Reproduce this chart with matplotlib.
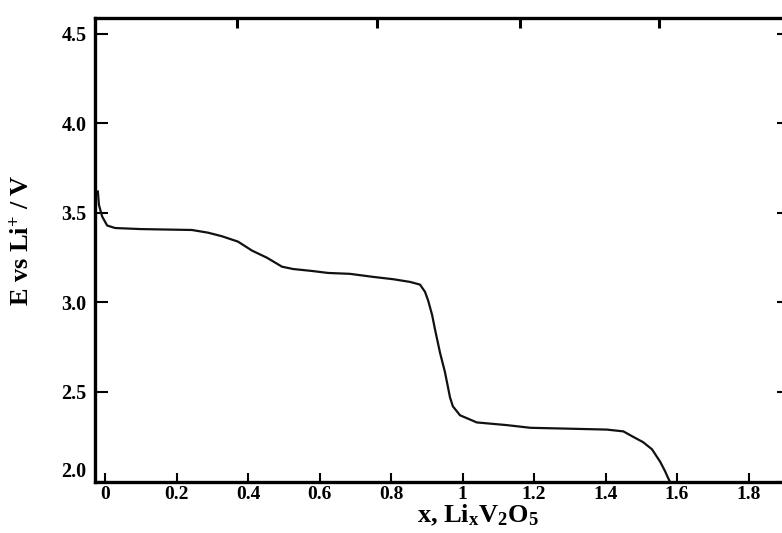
import matplotlib
matplotlib.use("Agg")
import matplotlib.pyplot as plt
import numpy as np

# discharge curve: x in LixV2O5, E vs Li+ in V
x_li = [-0.02, -0.017, -0.008, 0.006, 0.028, 0.10, 0.243, 0.288, 0.327, 0.372,
        0.411, 0.453, 0.495, 0.526, 0.579, 0.624, 0.685, 0.75, 0.806, 0.853,
        0.881, 0.895, 0.904, 0.915, 0.923, 0.937, 0.951, 0.965, 0.973, 0.993,
        1.04, 1.124, 1.19, 1.30, 1.404, 1.45, 1.477, 1.505, 1.53, 1.553,
        1.566, 1.575, 1.58]
e_volt = [3.62, 3.545, 3.48, 3.43, 3.416, 3.41, 3.405, 3.39, 3.37, 3.34,
          3.29, 3.25, 3.20, 3.187, 3.176, 3.165, 3.16, 3.143, 3.13, 3.115,
          3.10, 3.06, 3.01, 2.93, 2.85, 2.72, 2.61, 2.47, 2.42, 2.37,
          2.33, 2.315, 2.30, 2.295, 2.29, 2.28, 2.25, 2.22, 2.18, 2.11,
          2.06, 2.02, 2.0]

x_ticks = [0, 0.2, 0.4, 0.6, 0.8, 1.0, 1.2, 1.4, 1.6, 1.8]
x_tick_labels = ["0", "0.2", "0.4", "0.6", "0.8", "1", "1.2", "1.4", "1.6", "1.8"]
y_ticks = [2.0, 2.5, 3.0, 3.5, 4.0, 4.5]
y_tick_labels = ["2.0", "2.5", "3.0", "3.5", "4.0", "4.5"]
top_ticks = [0.37, 0.76, 1.16, 1.55]

plt.rcParams["font.family"] = "Liberation Serif"
plt.rcParams["font.weight"] = "bold"
plt.rcParams["mathtext.fontset"] = "custom"
plt.rcParams["mathtext.rm"] = "Liberation Serif:bold"
plt.rcParams["mathtext.it"] = "Liberation Serif:italic:bold"
plt.rcParams["mathtext.bf"] = "Liberation Serif:bold"

fig = plt.figure(figsize=(7.82, 5.33), dpi=100)
ax = fig.add_axes([0.1215, 0.0966, 0.8887, 0.8696])

ax.plot(x_li, e_volt, color="#111111", lw=1.6)

ax.set_xlim(-0.028, 1.916)
ax.set_ylim(2.0, 4.589)

ax.set_xticks(x_ticks)
ax.set_xticklabels(x_tick_labels, fontsize=14, fontweight="bold")
ax.set_yticks(y_ticks)
ax.set_yticklabels(y_tick_labels, fontsize=14.5, fontweight="bold")
# the 2.0 label sits just above the bottom axis
ax.get_yticklabels()[0].set_verticalalignment("bottom")

ax.tick_params(axis="x", direction="in", length=6.5, width=1.5, pad=3,
               colors="black")
ax.tick_params(axis="y", direction="in", length=9.5, width=1.5, pad=6,
               right=True, colors="black")

for s in ax.spines.values():
    s.set_linewidth(2.4)
    s.set_color("black")

# upper axis carries its own tick marks without labels
top = ax.twiny()
top.set_xlim(ax.get_xlim())
top.set_xticks(top_ticks)
top.set_xticklabels([])
top.tick_params(axis="x", direction="in", length=7, width=2.2)
for s in top.spines.values():
    s.set_visible(False)

ax.set_ylabel(r"E vs Li$^{+}$ / V", fontsize=19, fontweight="bold",
              va="center", ha="center")
ax.yaxis.set_label_coords(-0.105, 0.521)
ax.set_xlabel(r"x, Li$_\mathregular{x}$V$_\mathregular{2}$O$_\mathregular{5}$",
              fontsize=19, fontweight="bold")
ax.xaxis.set_label_coords(0.551, -0.045)

fig.savefig("out.png", dpi=100)
